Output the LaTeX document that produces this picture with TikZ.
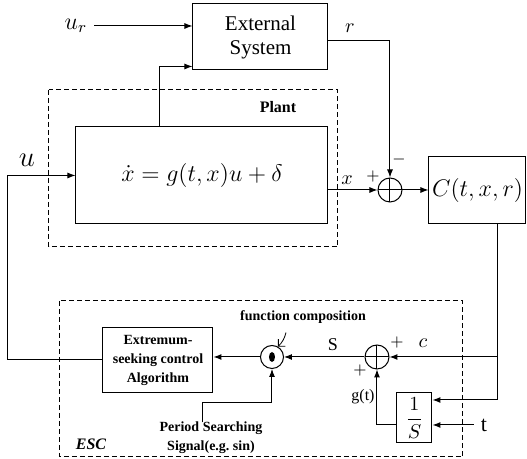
\documentclass[tikz,border=0pt]{standalone}
\usepackage{amsmath}
\usepackage{fontspec}
\setmainfont{Liberation Serif}
\usetikzlibrary{calc,arrows.meta}

\tikzset{
  block/.style={draw, inner sep=1pt, align=center},
  dashframe/.style={draw, dash pattern=on 2.5pt off 1.5pt},
  sumjunc/.style={draw, circle, minimum size=12pt, inner sep=0pt,
    path picture={\draw (path picture bounding box.north) -- (path picture bounding box.south)
      (path picture bounding box.west) -- (path picture bounding box.east);}},
  compjunc/.style={draw, circle, minimum size=11.5pt, inner sep=0pt,
    path picture={\fill (path picture bounding box.center) ellipse (1.5pt and 2.5pt);}},
  tinybold/.style={font=\fontsize{7}{9.5}\selectfont\bfseries, align=center},
}

\begin{document}
\begin{tikzpicture}[x=0.5pt, y=-0.5pt, >={Latex[length=4pt,width=3pt]}, line width=0.5pt]
    \useasboundingbox (0,0) rectangle (527,459);

    % dashed frames
    \draw[dashframe] (49,90) rectangle (338,247);
    \draw[dashframe] (60,301) rectangle (463,457);

    % upper loop
    \node[block, minimum width=67.5pt, minimum height=33pt, font=\fontsize{10.5}{12}\selectfont] (ext) at (260.5,37) {External\\System};
    \node[font=\large] (ur) at (76,26) {$u_r$};
    \node[font=\fontsize{8}{9}\selectfont\bfseries] (plantlbl) at (278,107) {Plant};
    \node[block, minimum width=126pt, minimum height=48.5pt, font=\large] (sys) at (202,175.5) {$\dot{x} = g(t,x)u + \delta$};
    \node[font=\Large] (ulbl) at (27,160) {$u$};
    \node[sumjunc] (sum1) at (390,190) {};
    \node[block, minimum width=48.5pt, minimum height=33.5pt, inner sep=0pt, font=\large] (ctrl) at (477.5,190.5) {$C(t,x,r)$};
    \node (rlbl) at (350,28) {$r$};
    \node (xlbl) at (347,180) {$x$};
    \node[font=\footnotesize] (xplus) at (373,177) {$+$};
    \node[font=\footnotesize] (rminus) at (399,160) {$-$};

    % ESC loop
    \node[block, tinybold, minimum width=55pt, minimum height=32.5pt] (alg) at (158,360) {Extremum-\\seeking control\\Algorithm};
    \node[compjunc] (comp) at (272,357) {};
    \node[sumjunc] (sum2) at (377,357) {};
    \node[block, minimum width=17.5pt, minimum height=25pt, inner sep=0pt] (integ) at (414.5,418) {$\dfrac{1}{S}$};
    \node[font=\fontsize{11}{12}\selectfont] (tlbl) at (484,425) {t};
    \node[font=\fontsize{9}{10}\selectfont] (slbl) at (333,345) {S};
    \node (clbl) at (423,343) {$c$};
    \node[font=\footnotesize] (cplus) at (397,343) {$+$};
    \node[font=\footnotesize] (gplus) at (360,371) {$+$};
    \node[font=\fontsize{8}{9}\selectfont] (glbl) at (363,397) {g(t)};
    \node[tinybold] (fclbl) at (303,317) {function composition};
    \node[tinybold] (pss) at (211,437.5) {Period Searching\\Signal(e.g.\ sin)};
    \node[font=\fontsize{8}{9}\selectfont\bfseries\itshape] (esclbl) at (91,444) {ESC};

    \draw[->] (ur.east) -- (ur.east -| ext.west);
    \draw[->] ($(sys.north west)+(84,0)$) |- ($(ext.south west)+(0,-4)$);
    \draw[->] ($(ext.east)+(0,4)$) -| (sum1.north);
    \draw[->] (sum1 -| sys.east) -- (sum1.west);
    \draw[->] (sum1.east) -- (sum1 -| ctrl.west);

    \coordinate (cout) at ($(ctrl.south)+(20,0)$);
    \coordinate (cin) at ($(integ.east)+(0,-18)$);
    \draw[->] (cout) |- (cin);
    \draw[->] (cout |- sum2) -- (sum2.east);
    \draw[->] (tlbl.west) -- (tlbl.west -| integ.east);
    \draw[->] (integ.west |- tlbl) -| (sum2.south);
    \draw[->] (sum2.west) -- (comp.east);
    \draw[->] (comp.west) -- (comp -| alg.east);
    \draw[->] ($(pss.north)+(-8,8)$) -- ++(0,-20) -| (comp.south);
    \draw[->] (alg.west) -- ++(-95,0) |- (sys.west);
    \draw[-{Straight Barb[length=2.5pt]}, line width=0.4pt] ($(fclbl.south)+(-17,2)$) to[bend left=15] (comp.60);
\end{tikzpicture}
\end{document}
